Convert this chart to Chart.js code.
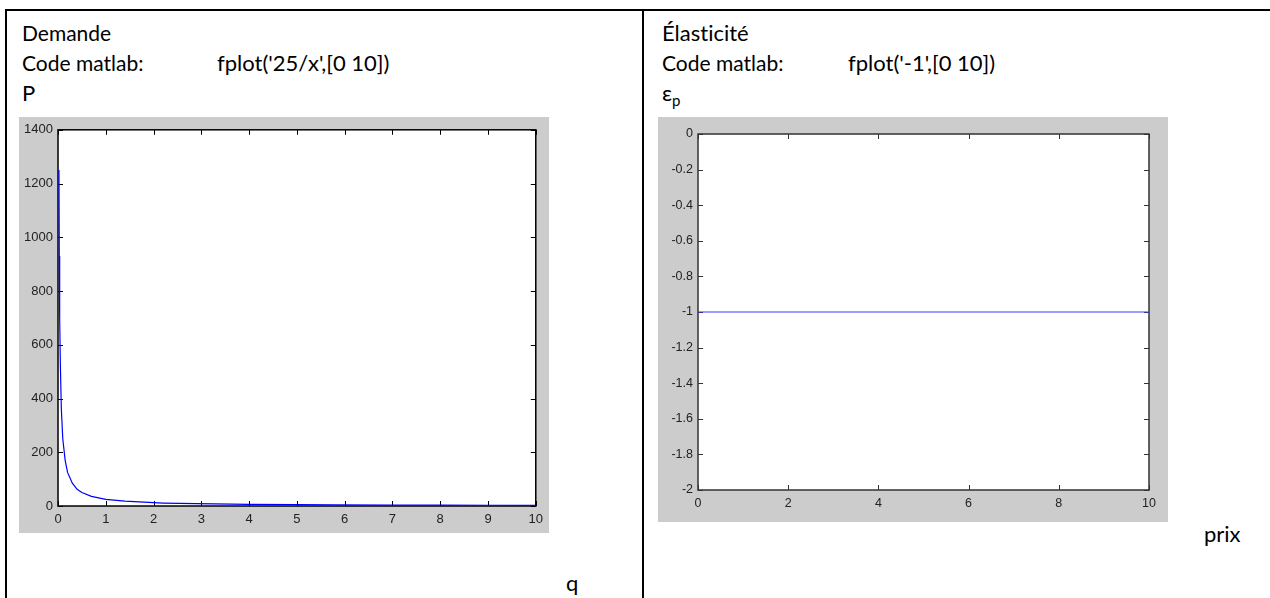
<!DOCTYPE html>
<html>
<head>
<meta charset="utf-8">
<script src="https://cdn.jsdelivr.net/npm/chart.js@4"></script>
<style>
  body { margin: 0; background: #fff; width: 1270px; height: 598px; overflow: hidden; position: relative; }
  .rule { position: absolute; background: #000; }
  .txt { position: absolute; font-family: Lato, "Noto Sans", sans-serif; font-size: 22px; line-height: 22px; color: #000; white-space: nowrap; font-variant-ligatures: none; }
  canvas { position: absolute; }
</style>
</head>
<body>
<div class="rule" style="left:5px; top:9px; width:1265px; height:2px;"></div>
<div class="rule" style="left:5px; top:9px; width:2px; height:589px;"></div>
<div class="rule" style="left:642px; top:9px; width:2px; height:589px;"></div>

<div class="txt" style="left:22px; top:22px; font-size:21px;">Demande</div>
<div class="txt" style="left:22px; top:52px; font-size:21px;">Code matlab:</div>
<div class="txt" style="left:217px; top:52px;">fplot('25/x',[0 10])</div>
<div class="txt" style="left:22px; top:82px;">P</div>

<div class="txt" style="left:662px; top:22px;">Élasticité</div>
<div class="txt" style="left:662px; top:52px; font-size:21px;">Code matlab:</div>
<div class="txt" style="left:848px; top:52px;">fplot('-1',[0 10])</div>
<div class="txt" style="left:662px; top:82px;">ε<span style="font-size:15px; position:relative; top:5px;">p</span></div>

<div class="txt" style="left:566px; top:572px;">q</div>
<div class="txt" style="left:1204px; top:523px;">prix</div>

<canvas id="demande" width="530" height="416" style="left:19px; top:117px;"></canvas>
<canvas id="elasticite" width="510" height="405" style="left:658px; top:117px;"></canvas>

<script>
// Demande : P = 25/q
const qValues = [0.02, 0.027, 0.035, 0.05, 0.07, 0.1, 0.15, 0.2, 0.3, 0.4, 0.5, 0.7, 1, 1.4, 2, 2.2, 2.9, 4, 5, 5.8, 7, 8, 9, 10];
const pValues = [1250, 930, 700, 520, 360, 250, 170, 125, 85, 62, 50, 36, 25, 18, 12.5, 11, 8.5, 6, 5, 4.3, 3.6, 3.1, 2.8, 2.5];

// Élasticité : constante -1
const prixValues = [0, 10];
const elastValues = [-1, -1];

// bornes des axes [min, max, pas]
const demandeX = [0, 10, 1];
const demandeY = [0, 1400, 200];
const elastX = [0, 10, 2];
const elastY = [-2, 0, 0.2];

Chart.defaults.font.family = '"Liberation Sans", Arial, sans-serif';
Chart.defaults.color = '#222';
Chart.defaults.animation = false;

// fond gris matlab, cadre et graduations vers l'intérieur
const matlabAxes = {
  id: 'matlabAxes',
  beforeDraw(chart, args, opts) {
    const ctx = chart.ctx;
    const a = chart.chartArea;
    ctx.save();
    ctx.fillStyle = '#cccccc';
    ctx.fillRect(0, 0, chart.width, chart.height);
    ctx.fillStyle = '#ffffff';
    ctx.fillRect(a.left, a.top, a.right - a.left, a.bottom - a.top);
    ctx.restore();
  },
  beforeDatasetsDraw(chart, args, opts) {
    const ctx = chart.ctx;
    const a = chart.chartArea;
    const len = opts.tickLen || 5;
    ctx.save();
    ctx.strokeStyle = opts.color || '#000';
    ctx.lineWidth = 1;
    ctx.beginPath();
    chart.scales.x.ticks.forEach(t => {
      const px = Math.round(chart.scales.x.getPixelForValue(t.value)) + 0.5;
      ctx.moveTo(px, a.bottom); ctx.lineTo(px, a.bottom - len);
      ctx.moveTo(px, a.top); ctx.lineTo(px, a.top + len);
    });
    chart.scales.y.ticks.forEach(t => {
      const py = Math.round(chart.scales.y.getPixelForValue(t.value)) + 0.5;
      ctx.moveTo(a.left, py); ctx.lineTo(a.left + len, py);
      ctx.moveTo(a.right, py); ctx.lineTo(a.right - len, py);
    });
    ctx.stroke();
    ctx.lineWidth = opts.boxWidth || 1.5;
    ctx.strokeRect(a.left, a.top, a.right - a.left, a.bottom - a.top);
    ctx.restore();
  }
};

function makeChart(id, xs, ys, xr, yr, lineColor, pad, yWidth, xHeight, boxColor, fontSize) {
  const points = xs.map((x, i) => ({ x: x, y: ys[i] }));
  return new Chart(document.getElementById(id), {
    type: 'line',
    data: {
      datasets: [{
        data: points,
        borderColor: lineColor,
        borderWidth: 1.2,
        pointRadius: 0,
        tension: 0,
        fill: false
      }]
    },
    options: {
      responsive: false,
      devicePixelRatio: 1,
      layout: { padding: pad },
      plugins: {
        legend: { display: false },
        tooltip: { enabled: false },
        matlabAxes: { color: boxColor, tickLen: 5 }
      },
      scales: {
        x: {
          type: 'linear',
          min: xr[0], max: xr[1],
          grid: { display: false, drawTicks: false },
          border: { display: false },
          ticks: { stepSize: xr[2], padding: 6, maxRotation: 0, font: { size: fontSize } },
          afterFit: s => { s.height = xHeight; }
        },
        y: {
          min: yr[0], max: yr[1],
          grid: { display: false, drawTicks: false },
          border: { display: false },
          ticks: {
            stepSize: yr[2], padding: 5, font: { size: fontSize },
            callback: v => String(Number(v.toFixed(1)))
          },
          afterFit: s => { s.width = yWidth; }
        }
      }
    },
    plugins: [matlabAxes]
  });
}

makeChart('demande', qValues, pValues, demandeX, demandeY, '#0000ff',
  { top: 12, right: 10, left: 0, bottom: 0 }, 39, 27, '#000', 13);
makeChart('elasticite', prixValues, elastValues, elastX, elastY, '#3b3bff',
  { top: 17, right: 19, left: 0, bottom: 0 }, 40, 32, '#333', 12.5);
</script>
</body>
</html>
